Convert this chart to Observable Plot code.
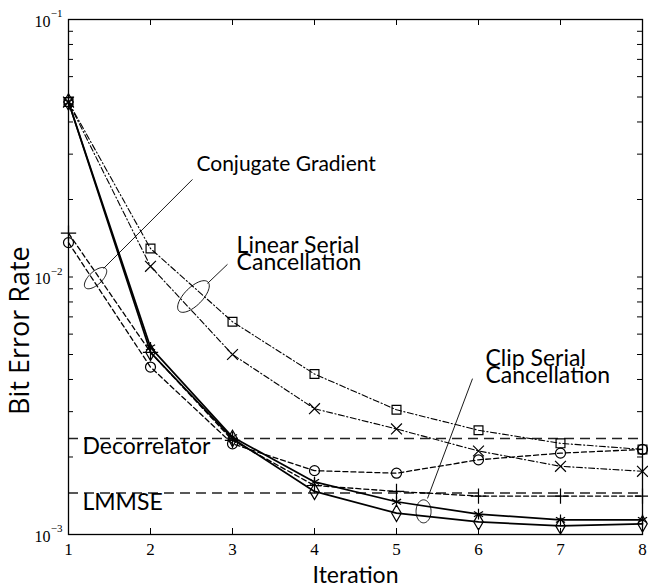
<!DOCTYPE html>
<html>
<head>
<meta charset="utf-8">
<script src="https://cdn.jsdelivr.net/npm/d3@7"></script>
<script src="https://cdn.jsdelivr.net/npm/@observablehq/plot@0.6"></script>
<style>
  body { margin: 0; background: #fff; }
  #chart svg { display: block; }
</style>
</head>
<body>
<div id="chart"></div>
<script>
// Bit error rate per iteration for the iterative detectors
const iterations = [1, 2, 3, 4, 5, 6, 7, 8];

// Clip serial cancellation (two configurations)
const clipSerialA = [0.0478, 0.00533, 0.00239, 0.00160, 0.00134, 0.00120, 0.00114, 0.00114];
const clipSerialB = [0.0478, 0.00510, 0.00236, 0.00147, 0.00121, 0.00112, 0.00108, 0.00110];

// Conjugate gradient (two configurations)
const conjGradA = [0.0136, 0.00447, 0.00225, 0.00177, 0.00173, 0.00195, 0.00207, 0.00214];
const conjGradB = [0.0148, 0.00510, 0.00232, 0.00155, 0.00147, 0.00141, 0.00141, 0.00141];

// Linear serial cancellation (two configurations)
const linSerialA = [0.0478, 0.0129, 0.00670, 0.00420, 0.00305, 0.00254, 0.00226, 0.00214];
const linSerialB = [0.0478, 0.0110, 0.00500, 0.00308, 0.00257, 0.00211, 0.00184, 0.00176];

// Non-iterative reference detectors
const decorrelatorBER = 0.00236;
const lmmseBER = 0.00145;

// Axis ticks
const xTicks = [1, 2, 3, 4, 5, 6, 7, 8];
const yMajor = [1e-3, 1e-2, 1e-1];
const yMinor = [2, 3, 4, 5, 6, 7, 8, 9].flatMap(m => [m * 1e-3, m * 1e-2]);

// Annotation labels, anchored in data units (iteration, BER) at the last baseline
const labelText = ["Conjugate Gradient", "Linear Serial\nCancellation", "Clip Serial\nCancellation", "Decorrelator", "LMMSE"];
const labelX = [2.56, 3.05, 6.085, 1.17, 1.17];
const labelY = [0.0257, 0.0106, 0.00386, 0.00206, 0.00125];
const labelSize = [21, 23, 23, 23, 23];

// Ellipses grouping each pair of curves, and their leader lines
const ringX = [1.33, 2.524, 5.33];
const ringY = [0.0099, 0.0084, 0.00123];
const leaderX1 = [1.427, 2.695, 5.378];
const leaderY1 = [0.01079, 0.00944, 0.00138];
const leaderX2 = [2.512, 2.939, 5.927];
const leaderY2 = [0.02393, 0.01120, 0.00403];

const series = (values) => iterations.map((it, i) => ({iteration: it, ber: values[i]}));

// Rotated ellipse as a custom symbol (semi-axes a, b in px, angle in degrees)
function ellipseSymbol(a, b, angle) {
  const th = angle * Math.PI / 180, c = Math.cos(th), s = Math.sin(th);
  return {
    draw(ctx) {
      const n = 60;
      for (let i = 0; i <= n; ++i) {
        const t = 2 * Math.PI * i / n;
        const ex = a * Math.cos(t), ey = b * Math.sin(t);
        const px = ex * c - ey * s, py = ex * s + ey * c;
        if (i === 0) ctx.moveTo(px, py); else ctx.lineTo(px, py);
      }
      ctx.closePath();
    }
  };
}
const ringShapes = [ellipseSymbol(14, 6.5, -43), ellipseSymbol(20.5, 9, -45), ellipseSymbol(11.5, 7.5, -90)];

const W = 648, H = 588, mL = 68, mR = 6, mT = 19, mB = 54;
const plotW = W - mL - mR, plotH = H - mT - mB;
const sans = "Lato, 'Open Sans', sans-serif";
const serif = "'Liberation Serif', 'DejaVu Serif', serif";

function curve(values, symbol, dash, width) {
  const data = series(values);
  return [
    Plot.line(data, {x: "iteration", y: "ber", stroke: "black", strokeWidth: width, strokeDasharray: dash}),
    Plot.dot(data, {x: "iteration", y: "ber", symbol, r: 5, stroke: "black", strokeWidth: 1.2, fill: "none"})
  ];
}

const chart = Plot.plot({
  width: W,
  height: H,
  marginLeft: mL,
  marginRight: mR,
  marginTop: mT,
  marginBottom: mB,
  style: {background: "white"},
  x: {domain: [1, 8], axis: null},
  y: {type: "log", domain: [1e-3, 1e-1], axis: null},
  marks: [
    // reference detectors
    Plot.ruleY([decorrelatorBER, lmmseBER], {stroke: "#222", strokeWidth: 1.4, strokeDasharray: "10,6"}),
    // iterative detectors
    ...curve(linSerialA, "square", "6,2.5,1.2,2.5", 1.1),
    ...curve(linSerialB, "times", "6,2.5,1.2,2.5", 1.1),
    ...curve(conjGradA, "circle", "5,3", 1.3),
    ...curve(conjGradB, "plus", "5,3", 1.3),
    ...curve(clipSerialA, "asterisk", null, 1.7),
    ...curve(clipSerialB, "diamond", null, 1.7),
    // grouping ellipses and leaders
    Plot.dot(ringX.map((x, i) => ({x, y: ringY[i], i})), {
      x: "x", y: "y", r: 10, stroke: "black", strokeWidth: 0.9, fill: "none",
      symbol: d => ringShapes[d.i]
    }),
    Plot.link(leaderX1.map((x, i) => i), {
      x1: i => leaderX1[i], y1: i => leaderY1[i], x2: i => leaderX2[i], y2: i => leaderY2[i],
      stroke: "black", strokeWidth: 0.9
    }),
    ...labelText.map((t, i) => Plot.text([t], {
      x: () => labelX[i], y: () => labelY[i], text: d => d, textAnchor: "start", lineAnchor: "bottom",
      lineHeight: 0.74, fontSize: labelSize[i], fontFamily: sans, fill: "black"
    })),
    // frame and inward ticks
    Plot.frame({stroke: "black", strokeWidth: 1.3}),
    Plot.tickX(xTicks.slice(1, -1), {x: d => d, insetTop: plotH - 6, stroke: "black", strokeWidth: 1}),
    Plot.tickX(xTicks.slice(1, -1), {x: d => d, insetBottom: plotH - 6, stroke: "black", strokeWidth: 1}),
    Plot.tickY(yMajor.concat(yMinor), {y: d => d, insetRight: plotW - 5, stroke: "black", strokeWidth: 1}),
    Plot.tickY(yMajor.concat(yMinor), {y: d => d, insetLeft: plotW - 5, stroke: "black", strokeWidth: 1}),
    // tick labels
    Plot.text(xTicks, {x: d => d, frameAnchor: "bottom", text: d => String(d), lineAnchor: "top", dy: 8,
      fontSize: 17, fontFamily: serif, fill: "black"}),
    Plot.text(yMajor, {y: d => d, frameAnchor: "left", text: () => "10", textAnchor: "end", dx: -18, dy: 2,
      fontSize: 16, fontFamily: serif, fill: "black"}),
    Plot.text(yMajor, {y: d => d, frameAnchor: "left", text: d => "\u2212" + Math.round(-Math.log10(d)),
      textAnchor: "end", dx: -6, dy: -6, fontSize: 11, fontFamily: serif, fill: "black"}),
    // axis titles
    Plot.text(["Bit Error Rate"], {frameAnchor: "left", text: d => d, rotate: -90, textAnchor: "start",
      dx: -48, dy: 138, fontSize: 27, fontFamily: "'Open Sans', Lato, sans-serif", fill: "black"}),
    Plot.text(["Iteration"], {frameAnchor: "bottom", text: d => d, lineAnchor: "top", dy: 32,
      fontSize: 23, fontFamily: sans, fill: "black"})
  ]
});

document.getElementById("chart").append(chart);
</script>
</body>
</html>
